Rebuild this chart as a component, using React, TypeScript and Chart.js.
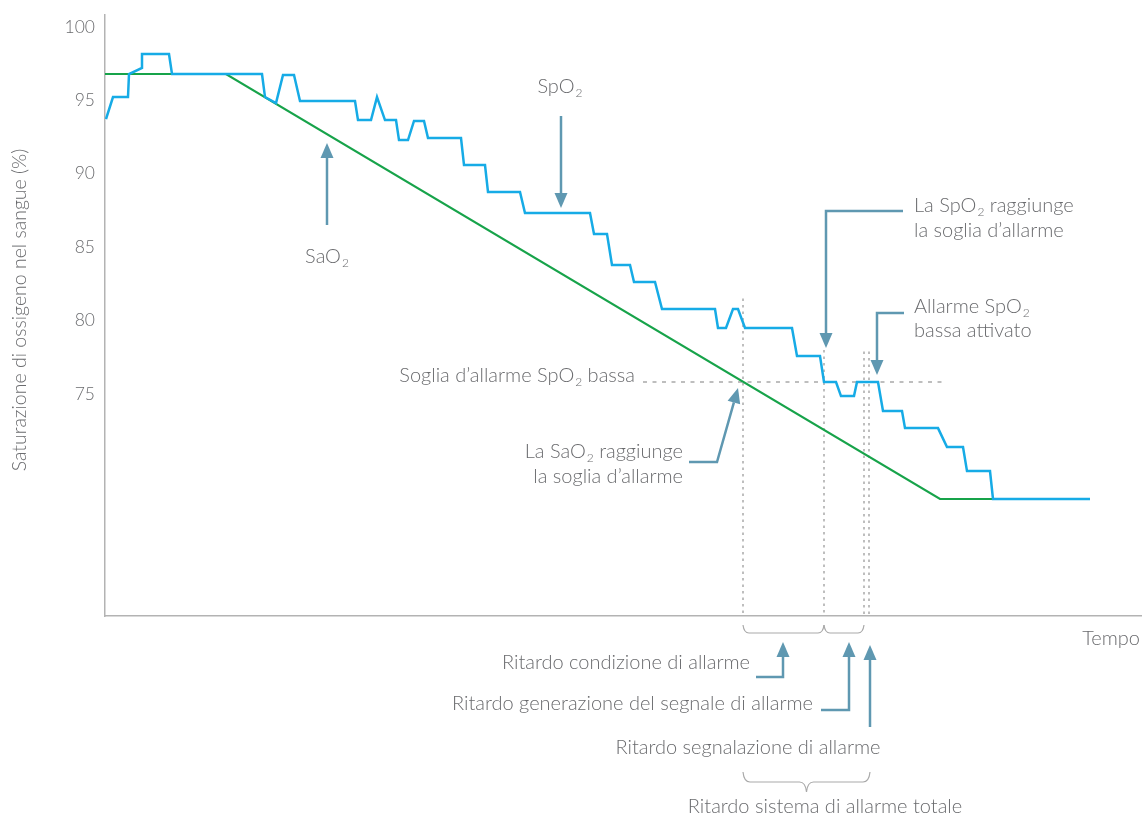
import React, { useEffect, useRef } from "react";
import { Chart, registerables } from "chart.js";

Chart.register(...registerables);

// ---- Data (time in arbitrary units, saturation in %) ----
const spo2Time = [1, 8, 23, 24, 37, 37, 64, 67, 157, 160, 171, 178, 189, 195, 250, 253, 266, 272, 280, 291, 294, 303, 309, 319, 323, 356, 359, 380, 383, 415, 420, 485, 489, 502, 507, 525, 529, 550, 557, 610, 613, 621, 628, 633, 640, 687, 692, 715, 719, 731, 736, 749, 752, 773, 778, 797, 800, 833, 842, 858, 862, 885, 888, 985];
const spo2Value = [93.73, 95.23, 95.23, 96.8, 97.21, 98.16, 98.16, 96.8, 96.8, 95.23, 94.82, 96.73, 96.73, 94.96, 94.96, 93.66, 93.66, 95.23, 93.66, 93.66, 92.3, 92.3, 93.6, 93.6, 92.44, 92.44, 90.6, 90.6, 88.76, 88.76, 87.33, 87.33, 85.9, 85.9, 83.79, 83.79, 82.63, 82.63, 80.79, 80.79, 79.5, 79.5, 80.79, 80.79, 79.5, 79.5, 77.59, 77.59, 75.82, 75.82, 74.86, 74.86, 75.82, 75.82, 73.84, 73.84, 72.68, 72.68, 71.39, 71.39, 69.75, 69.75, 67.85, 67.85];
const sao2Time = [0, 121, 835, 985];
const sao2Value = [96.8, 96.8, 67.85, 67.85];
const yTickValues = [75, 80, 85, 90, 95, 100];
const alarmThreshold = 75.82;
// SaO2 reaches threshold, SpO2 reaches threshold, alarm generated, alarm signalled
const eventTimes = [638, 719, 759, 764];
const eventLineTop = [81.5, 78.0, 77.9, 77.9];
const thresholdSpan = [538, 838];

const TEXT = "#6a6b6e";
const ARROW = "#5f98b1";
const GRID = "#b3b3b3";
const FONT = "Lato, 'Open Sans', sans-serif";
const WEIGHT = "300";

type Part = [string, boolean];

function drawRich(ctx: CanvasRenderingContext2D, parts: Part[], x: number, y: number, align: "left" | "right" | "center", size = 20) {
  const main = `${WEIGHT} ${size}px ${FONT}`;
  const sub = `${WEIGHT} ${Math.round(size * 0.62)}px ${FONT}`;
  let total = 0;
  const widths = parts.map(([t, s]) => {
    ctx.font = s ? sub : main;
    const w = ctx.measureText(t).width + (s ? 1 : 0);
    total += w;
    return w;
  });
  let cx = align === "left" ? x : align === "right" ? x - total : x - total / 2;
  ctx.textAlign = "left";
  ctx.textBaseline = "middle";
  ctx.fillStyle = TEXT;
  parts.forEach(([t, s], i) => {
    ctx.font = s ? sub : main;
    ctx.fillText(t, cx + (s ? 1 : 0), s ? y + 6 : y);
    cx += widths[i];
  });
}

function arrow(ctx: CanvasRenderingContext2D, pts: number[][]) {
  const n = pts.length;
  const [tx, ty] = pts[n - 1];
  const [px, py] = pts[n - 2];
  const ang = Math.atan2(ty - py, tx - px);
  const hl = 15, hw = 6.5;
  const bx = tx - hl * Math.cos(ang), by = ty - hl * Math.sin(ang);
  ctx.strokeStyle = ARROW;
  ctx.fillStyle = ARROW;
  ctx.lineWidth = 2.5;
  ctx.setLineDash([]);
  ctx.lineJoin = "miter";
  ctx.beginPath();
  ctx.moveTo(pts[0][0], pts[0][1]);
  for (let i = 1; i < n - 1; i++) ctx.lineTo(pts[i][0], pts[i][1]);
  ctx.lineTo(bx, by);
  ctx.stroke();
  ctx.beginPath();
  ctx.moveTo(tx, ty);
  ctx.lineTo(bx + hw * Math.sin(ang), by - hw * Math.cos(ang));
  ctx.lineTo(bx - hw * Math.sin(ang), by + hw * Math.cos(ang));
  ctx.closePath();
  ctx.fill();
}

function bracket(ctx: CanvasRenderingContext2D, x1: number, x2: number, yTop: number, yBot: number) {
  const r = 6;
  ctx.beginPath();
  ctx.moveTo(x1, yTop);
  ctx.quadraticCurveTo(x1 + 1, yBot, x1 + r, yBot);
  ctx.lineTo(x2 - r, yBot);
  ctx.quadraticCurveTo(x2 - 1, yBot, x2, yTop);
  ctx.stroke();
}

function brace(ctx: CanvasRenderingContext2D, x1: number, x2: number, yTop: number, yMid: number, yTip: number) {
  const m = (x1 + x2) / 2;
  const r = 7;
  ctx.beginPath();
  ctx.moveTo(x1, yTop);
  ctx.quadraticCurveTo(x1 + 1, yMid, x1 + r, yMid);
  ctx.lineTo(m - r, yMid);
  ctx.quadraticCurveTo(m - 1, yMid, m, yTip);
  ctx.quadraticCurveTo(m + 1, yMid, m + r, yMid);
  ctx.lineTo(x2 - r, yMid);
  ctx.quadraticCurveTo(x2 - 1, yMid, x2, yTop);
  ctx.stroke();
}

const guidesPlugin = {
  id: "guides",
  beforeDatasetsDraw(chart: any) {
    const { ctx, chartArea, scales } = chart;
    const xs = scales.x, ys = scales.y;
    ctx.save();
    ctx.strokeStyle = "#a9a9a9";
    ctx.lineWidth = 1.5;
    // vertical dotted event lines
    ctx.setLineDash([2.5, 4]);
    eventTimes.forEach((t, i) => {
      const x = xs.getPixelForValue(t);
      ctx.beginPath();
      ctx.moveTo(x, ys.getPixelForValue(eventLineTop[i]));
      ctx.lineTo(x, chartArea.bottom);
      ctx.stroke();
    });
    // threshold dashed line
    ctx.setLineDash([4, 5.5]);
    const ty = ys.getPixelForValue(alarmThreshold);
    ctx.beginPath();
    ctx.moveTo(xs.getPixelForValue(thresholdSpan[0]), ty);
    ctx.lineTo(xs.getPixelForValue(thresholdSpan[1]), ty);
    ctx.stroke();
    ctx.restore();
  },
  afterDraw(chart: any) {
    const { ctx, chartArea, scales } = chart;
    const xs = scales.x, ys = scales.y;
    const ex = eventTimes.map((t) => xs.getPixelForValue(t));
    const bottom = chartArea.bottom;
    ctx.save();

    // Y axis title
    ctx.save();
    ctx.translate(20, 310);
    ctx.rotate(-Math.PI / 2);
    ctx.font = `${WEIGHT} 19.5px ${FONT}`;
    ctx.fillStyle = TEXT;
    ctx.textAlign = "center";
    ctx.textBaseline = "middle";
    ctx.fillText("Saturazione di ossigeno nel sangue (%)", 0, 0);
    ctx.restore();

    // X axis title
    drawRich(ctx, [["Tempo", false]], 1140, bottom + 23, "right");

    // Series labels
    drawRich(ctx, [["SpO", false], ["2", true]], 560, 87, "center");
    arrow(ctx, [[561, 116], [561, 208]]);
    drawRich(ctx, [["SaO", false], ["2", true]], 327, 257, "center");
    arrow(ctx, [[327, 225], [327, 143]]);

    // Threshold label
    drawRich(ctx, [["Soglia d\u2019allarme SpO", false], ["2", true], [" bassa", false]], 635, ys.getPixelForValue(alarmThreshold) - 6, "right");

    // SaO2 reaches threshold
    drawRich(ctx, [["La SaO", false], ["2", true], [" raggiunge", false]], 683, 452, "right");
    drawRich(ctx, [["la soglia d\u2019allarme", false]], 683, 477, "right");
    arrow(ctx, [[689, 462], [717, 462], [ex[0] - 5, ys.getPixelForValue(alarmThreshold) + 6]]);

    // SpO2 reaches threshold
    drawRich(ctx, [["La SpO", false], ["2", true], [" raggiunge", false]], 914, 206, "left");
    drawRich(ctx, [["la soglia d\u2019allarme", false]], 914, 231, "left");
    arrow(ctx, [[903, 211], [ex[1] + 2, 211], [ex[1] + 2, 348]]);

    // Alarm activated
    drawRich(ctx, [["Allarme SpO", false], ["2", true]], 914, 307, "left");
    drawRich(ctx, [["bassa attivato", false]], 914, 331, "left");
    arrow(ctx, [[904, 313], [877, 313], [877, 375]]);

    // Brackets under the axis
    ctx.strokeStyle = "#a9a9a9";
    ctx.lineWidth = 1.2;
    ctx.setLineDash([]);
    bracket(ctx, ex[0], ex[1], bottom + 9, bottom + 17);
    bracket(ctx, ex[1], ex[2], bottom + 9, bottom + 17);
    brace(ctx, ex[0], ex[3] + 1, bottom + 156, bottom + 166, bottom + 176);

    // Delay labels
    drawRich(ctx, [["Ritardo condizione di allarme", false]], 750, 663, "right");
    arrow(ctx, [[756, 677], [783, 677], [783, 642]]);
    drawRich(ctx, [["Ritardo generazione del segnale di allarme", false]], 813, 704, "right");
    arrow(ctx, [[821, 710], [849, 710], [849, 642]]);
    drawRich(ctx, [["Ritardo segnalazione di allarme", false]], 748, 748, "center");
    arrow(ctx, [[ex[3] + 1, 727], [ex[3] + 1, 645]]);
    drawRich(ctx, [["Ritardo sistema di allarme totale", false]], 825, 807, "center");

    ctx.restore();
  },
};

export default function App() {
  const ref = useRef<HTMLCanvasElement | null>(null);
  useEffect(() => {
    if (!ref.current) return;
    const chart = new Chart(ref.current, {
      type: "line",
      data: {
        datasets: [
          {
            label: "SpO2",
            data: spo2Time.map((t, i) => ({ x: t, y: spo2Value[i] })),
            borderColor: "#16abe6",
            borderWidth: 2.5,
            pointRadius: 0,
            tension: 0,
            order: 0,
          },
          {
            label: "SaO2",
            data: sao2Time.map((t, i) => ({ x: t, y: sao2Value[i] })),
            borderColor: "#17a34a",
            borderWidth: 2.2,
            pointRadius: 0,
            tension: 0,
            order: 1,
          },
        ],
      },
      options: {
        responsive: false,
        animation: false,
        layout: { padding: { top: 15, right: 0, left: 0, bottom: 0 } },
        plugins: { legend: { display: false }, tooltip: { enabled: false } },
        scales: {
          x: {
            type: "linear",
            min: 0,
            max: 1037,
            grid: { display: false, drawTicks: false },
            ticks: { display: false },
            border: { display: true, color: GRID, width: 1.5 },
            afterFit: (s: any) => { s.height = 201; s.paddingLeft = 0; s.paddingRight = 0; },
          },
          y: {
            type: "linear",
            min: 59.88,
            max: 100.82,
            afterBuildTicks: (s: any) => { s.ticks = yTickValues.map((v) => ({ value: v })); },
            grid: { display: false, drawTicks: false },
            ticks: { padding: 10, color: TEXT, font: { family: FONT, size: 17.5, weight: "300" } },
            border: { display: true, color: GRID, width: 1.5 },
            afterFit: (s: any) => { s.width = 105; s.paddingTop = 0; s.paddingBottom = 0; },
          },
        },
      },
      plugins: [guidesPlugin],
    } as any);
    return () => chart.destroy();
  }, []);
  return (
    <div style={{ position: "fixed", left: 0, top: 0, width: 1142, height: 817, background: "#fff" }}>
      <canvas ref={ref} width={1142} height={817} style={{ width: 1142, height: 817, display: "block" }} />
    </div>
  );
}
